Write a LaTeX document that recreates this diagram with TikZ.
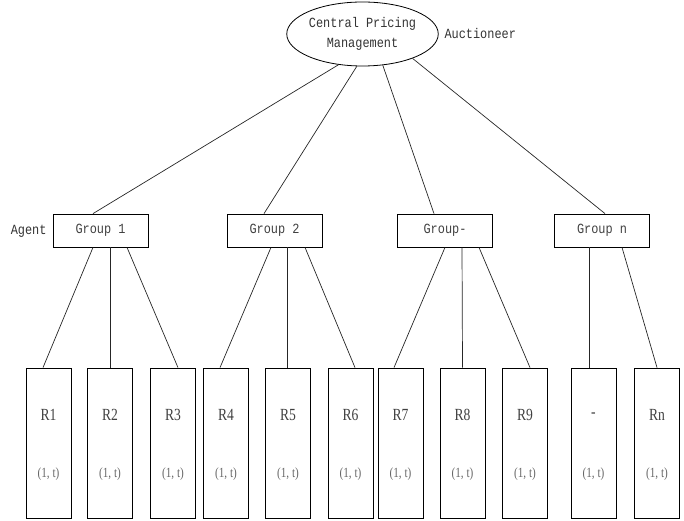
\documentclass[tikz,border=0pt]{standalone}
\usepackage{fontspec}
\setmainfont{Liberation Serif}
\setmonofont{Liberation Mono}
\newfontfamily\cmono[FakeStretch=0.85]{Liberation Mono}
\newfontfamily\cserif[FakeStretch=0.8]{Liberation Serif}
\usetikzlibrary{shapes.geometric,calc}
\begin{document}
\begin{tikzpicture}[x=1pt,y=-1pt,
  conn/.style={draw=black!85, line width=0.7pt},
  grp/.style={draw, rectangle, line width=0.8pt, minimum width=95pt, minimum height=33pt, inner sep=0pt, font=\cmono\fontsize{14}{16}\selectfont, text=black!75},
  res/.style={draw, rectangle, line width=0.8pt, minimum width=45pt, minimum height=150pt, inner sep=0pt},
  rlab/.style={font=\cserif\fontsize{17}{19}\selectfont, text=black!75},
  rval/.style={font=\cserif\fontsize{14}{16}\selectfont, text=black!60},
  plain/.style={font=\cmono\fontsize{14}{16}\selectfont, text=black!80}]
\useasboundingbox (0,0) rectangle (684,521);
\node[ellipse, draw, line width=0.8pt, minimum width=139pt, minimum height=64pt, inner sep=0pt, align=center, font=\cmono\fontsize{14}{20}\selectfont, text=black!80] (cpm) at (362.5,34) {Central Pricing\\Management};
\node[plain, anchor=west] (auc) at (441,33) {Auctioneer};
\node[plain, anchor=east] (agent) at (50,231) {Agent};
\node[grp] (g1) at (100.5,230.5) {Group 1};
\node[grp] (g2) at (274.5,230.5) {Group 2};
\node[grp] (g3) at (445,230.5) {Group-};
\node[grp] (g4) at (602,230.5) {Group n};
\foreach \n/\x/\t in {r1/48.5/R1, r2/110/R2, r3/173/R3, r4/226/R4, r5/288/R5, r6/350.5/R6, r7/400.5/R7, r8/462.5/R8, r9/525/R9, r10/593.5/-, r11/657/Rn} {
  \node[res] (\n) at (\x,443) {};
  \node[rlab] (\n-l) at ($(\n.center)+(0,-28)$) {\t};
  \node[rval] (\n-v) at ($(\n.center)+(0,31)$) {(1, t)};
}
\draw[conn] (cpm.232.6) -- ($(g1.north)+(-7.5,0)$);
\draw[conn] (cpm.260.5) -- ($(g2.north)+(-10.5,0)$);
\draw[conn] (cpm.303.5) -- ($(g3.north)+(-11,0)$);
\draw[conn] (cpm.334.1) -- ($(g4.north)+(3,0)$);
\draw[conn] ($(g1.south)+(-7.5,0)$) -- ($(r1.north)+(-5.5,0)$);
\draw[conn] ($(g1.south)+(9.5,0)$) -- (r2.north);
\draw[conn] ($(g1.south)+(26.5,0)$) -- ($(r3.north)+(5,0)$);
\draw[conn] ($(g2.south)+(-3.5,0)$) -- ($(r4.north)+(-6,0)$);
\draw[conn] ($(g2.south)+(12.5,0)$) -- ($(r5.north)+(-1,0)$);
\draw[conn] ($(g2.south)+(30.5,0)$) -- ($(r6.north)+(4.5,0)$);
\draw[conn] ($(g3.south)+(0,0)$) -- ($(r7.north)+(-6.5,0)$);
\draw[conn] ($(g3.south)+(17,0)$) -- (r8.north);
\draw[conn] ($(g3.south)+(34,0)$) -- ($(r9.north)+(5,0)$);
\draw[conn] ($(g4.south)+(-13,0)$) -- ($(r10.north)+(-4.5,0)$);
\draw[conn] ($(g4.south)+(20,0)$) -- (r11.north);
\end{tikzpicture}
\end{document}
